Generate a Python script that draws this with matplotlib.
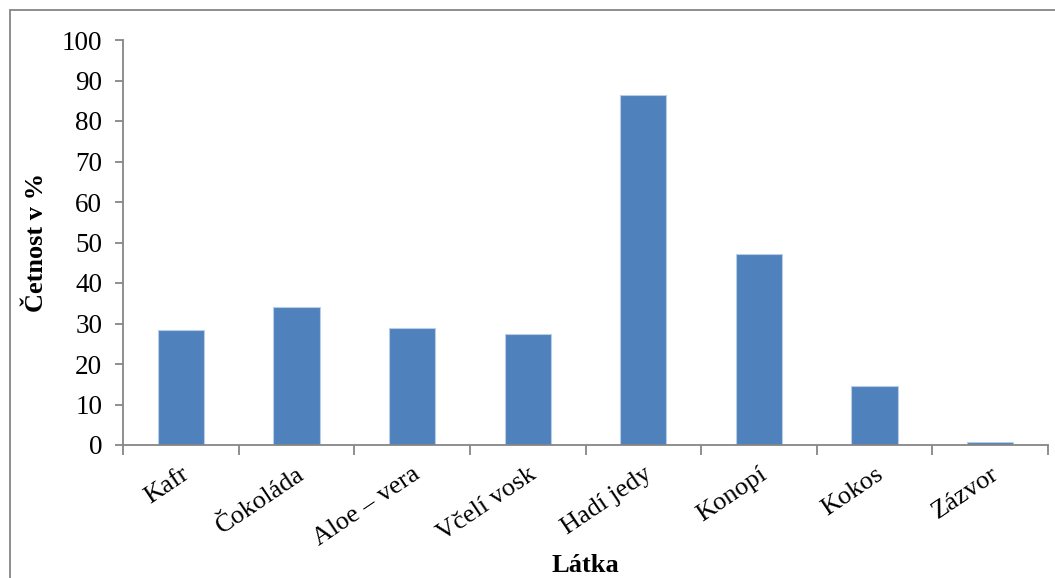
import matplotlib.pyplot as plt
from matplotlib.patches import Rectangle
import numpy as np

# Data
latky = ['Kafr', 'Čokoláda', 'Aloe – vera', 'Včelí vosk', 'Hadí jedy', 'Konopí', 'Kokos', 'Zázvor']
cetnost = [28.3, 34.0, 29.0, 27.5, 86.3, 47.1, 14.6, 0.8]
y_ticks = list(range(0, 101, 10))

plt.rcParams['font.family'] = ['Liberation Serif', 'DejaVu Serif']
axis_grey = '#868686'

fig = plt.figure(figsize=(10.55, 5.78), dpi=100)
W, H = 1055, 578
ax = fig.add_axes([123 / W, 1 - 445 / H, (1048 - 123) / W, (445 - 40) / H])

x = np.arange(len(latky))
ax.bar(x, cetnost, width=0.4, color='#4F81BD', edgecolor='#B9CDE5', linewidth=0.8, zorder=2)

ax.set_xlim(-0.5, len(latky) - 0.5)
ax.set_ylim(0, 100)
ax.set_yticks(y_ticks)
ax.tick_params(axis='y', labelsize=19.5, length=6, width=1.3, color=axis_grey, pad=9)

# boundaries get tick marks, centres get the labels
ax.set_xticks(np.arange(len(latky) + 1) - 0.5)
ax.set_xticklabels([])
ax.tick_params(axis='x', which='major', length=7, width=1.3, color=axis_grey)
ax.set_xticks(x, minor=True)
ax.set_xticklabels(latky, minor=True, rotation=34, ha='right', rotation_mode='anchor', fontsize=19)
ax.tick_params(axis='x', which='minor', length=0, pad=13)

for side in ['top', 'right']:
    ax.spines[side].set_visible(False)
for side in ['left', 'bottom']:
    ax.spines[side].set_color(axis_grey)
    ax.spines[side].set_linewidth(1.3)

ax.set_xlabel('Látka', fontsize=19, fontweight='bold', labelpad=3)
ax.set_ylabel('Četnost v %', fontsize=19, fontweight='bold', labelpad=10)

# outer chart frame (runs past the right and bottom edge)
fig.patches.append(Rectangle((10 / W, -0.1), 1.2, 1 - 10 / H + 0.1, transform=fig.transFigure,
                             fill=False, edgecolor=axis_grey, linewidth=1.3, clip_on=False))

fig.savefig('out.png', dpi=100)
